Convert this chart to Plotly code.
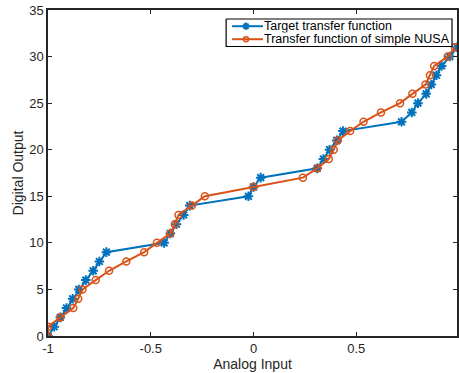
import plotly.graph_objects as go

# Target transfer function (blue, '*')
target_x = [-1.0, -0.97, -0.94, -0.91, -0.88, -0.85, -0.816, -0.78, -0.75, -0.716,
            -0.435, -0.405, -0.375, -0.34, -0.31, -0.025, 0.0, 0.035, 0.31, 0.34,
            0.37, 0.405, 0.435, 0.72, 0.77, 0.80, 0.84, 0.865, 0.89, 0.915, 0.955, 0.99]
target_y = list(range(32))

# Transfer function of simple NUSA (orange, 'o')
nusa_x = [-1.0, -1.0, -0.94, -0.877, -0.853, -0.832, -0.768, -0.703, -0.619, -0.532,
          -0.47, -0.405, -0.383, -0.365, -0.30, -0.237, 0.0, 0.24, 0.31, 0.366,
          0.39, 0.41, 0.47, 0.535, 0.62, 0.713, 0.773, 0.837, 0.858, 0.879, 0.945, 0.98]
nusa_y = list(range(32))

series_names = ["Target transfer function", "Transfer function of simple NUSA"]

x_ticks = [-1, -0.5, 0, 0.5]
x_tick_labels = ["-1", "-0.5", "0", "0.5"]
y_ticks = [0, 5, 10, 15, 20, 25, 30, 35]

BLUE = "#0072BD"
ORANGE = "#D95319"
AX = "#262626"
FONT = "Liberation Sans, Arial, Helvetica, sans-serif"

W, H = 459, 373
L, R, T, B = 48, 0, 10, 37

blue_marker = dict(symbol="asterisk-open", size=8, color=BLUE, line=dict(color=BLUE, width=2))
orange_marker = dict(symbol="circle-open", size=7, color=ORANGE, line=dict(color=ORANGE, width=1.5))
blue_marker_leg = dict(symbol="asterisk-open", size=6, color=BLUE, line=dict(color=BLUE, width=2))
orange_marker_leg = dict(symbol="circle-open", size=5, color=ORANGE, line=dict(color=ORANGE, width=1.5))

fig = go.Figure()
fig.add_trace(go.Scatter(
    x=target_x, y=target_y, mode="lines+markers", name=series_names[0],
    line=dict(color=BLUE, width=2), marker=blue_marker, showlegend=False,
))
fig.add_trace(go.Scatter(
    x=nusa_x, y=nusa_y, mode="lines+markers", name=series_names[1],
    line=dict(color=ORANGE, width=2), marker=orange_marker, showlegend=False,
))

# --- legend box (MATLAB style, compact) drawn on an overlay axis in pixel units ---
lx0, lx1, ly0, ly1 = 227, 454, 19, 46.5
row_y = [26.2, 39.2]
fig.add_trace(go.Scatter(
    x=[lx0, lx1, lx1, lx0, lx0], y=[ly0, ly0, ly1, ly1, ly0],
    xaxis="x2", yaxis="y2", mode="lines", fill="toself",
    fillcolor="white", line=dict(color="black", width=1.2),
    hoverinfo="skip", showlegend=False,
))
for ry, col, mk in zip(row_y, [BLUE, ORANGE], [blue_marker_leg, orange_marker_leg]):
    fig.add_trace(go.Scatter(
        x=[233, 264], y=[ry, ry], xaxis="x2", yaxis="y2", mode="lines",
        line=dict(color=col, width=2), hoverinfo="skip", showlegend=False,
    ))
    fig.add_trace(go.Scatter(
        x=[247], y=[ry], xaxis="x2", yaxis="y2", mode="markers",
        marker=mk, hoverinfo="skip", showlegend=False,
    ))

annotations = [
    dict(x=264, y=ry, xref="x2", yref="y2", text=name, showarrow=False,
         xanchor="left", yanchor="middle", height=12.6, borderpad=0,
         font=dict(family=FONT, size=12.5, color="black"))
    for ry, name in zip(row_y, series_names)
]

axis_common = dict(
    showgrid=False, zeroline=False, showline=True, linecolor=AX, linewidth=1.5,
    ticks="inside", ticklen=4, tickwidth=1, tickcolor=AX, mirror="ticks",
    tickfont=dict(family=FONT, size=13, color=AX),
)

fig.update_layout(
    width=W, height=H,
    margin=dict(l=L, r=R, t=T, b=B),
    paper_bgcolor="white", plot_bgcolor="white",
    font=dict(family=FONT, size=12, color=AX),
    xaxis=dict(range=[-1, 0.99], tickvals=x_ticks, ticktext=x_tick_labels,
               title=dict(text="Analog Input", font=dict(family=FONT, size=14, color=AX), standoff=0),
               **axis_common),
    yaxis=dict(range=[0, 35], tickvals=y_ticks,
               title=dict(text="Digital Output", font=dict(family=FONT, size=14, color=AX), standoff=2),
               **axis_common),
    xaxis2=dict(overlaying="x", range=[L, W - R], visible=False, fixedrange=True),
    yaxis2=dict(overlaying="y", range=[H - B, T], visible=False, fixedrange=True),
    annotations=annotations,
    showlegend=False,
)

fig.write_html("out.html")
